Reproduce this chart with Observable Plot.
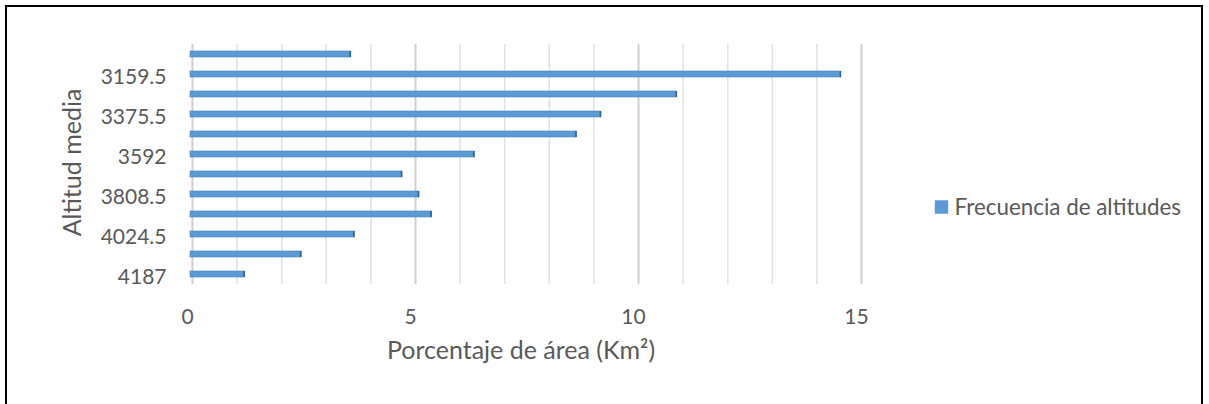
<!DOCTYPE html>
<html>
<head>
<meta charset="utf-8">
<script src="https://cdn.jsdelivr.net/npm/d3@7"></script>
<script src="https://cdn.jsdelivr.net/npm/@observablehq/plot@0.6"></script>
<style>
  html, body { margin: 0; padding: 0; background: #fff; overflow: hidden; }
  #wrap { position: relative; width: 1209px; height: 404px; }
  #frame { position: absolute; left: 5px; top: 5px; width: 1198px; height: 420px;
           border: 2.5px solid #000; box-sizing: border-box; pointer-events: none; }
</style>
</head>
<body>
<div id="wrap"><div id="frame"></div></div>
<script>
// Altitude classes (top to bottom) and share of area for each
const altitudes = ["3051.5", "3159.5", "3267.5", "3375.5", "3483.5", "3592",
                   "3700", "3808.5", "3916.5", "4024.5", "4106", "4187"];
const porcentajes = [3.60, 14.59, 10.91, 9.21, 8.66, 6.37,
                     4.75, 5.13, 5.41, 3.68, 2.49, 1.22];
// Only every other class gets a label on the axis
const labeledAltitudes = ["3159.5", "3375.5", "3592", "3808.5", "4024.5", "4187"];
const xTicks = [0, 5, 10, 15];
const xMinorTicks = [1, 2, 3, 4, 6, 7, 8, 9, 11, 12, 13, 14];
const serie = "Frecuencia de altitudes";
const xTitle = "Porcentaje de área (Km²)";
const yTitle = "Altitud media";

const rows = altitudes.map((a, i) => ({altitud: a, porcentaje: porcentajes[i]}));

const textColor = "#595959";
const barColor = "#5b9bd5";

const chart = Plot.plot({
  width: 1209,
  height: 404,
  marginLeft: 190,
  marginRight: 350,
  marginTop: 44,
  marginBottom: 120,
  style: {fontFamily: "Lato, 'Open Sans', sans-serif", fontSize: "21px", color: textColor, background: "transparent"},
  x: {domain: [0, 15]},
  y: {domain: altitudes, paddingInner: 0.72, paddingOuter: 0.36},
  marks: [
    Plot.gridX(xMinorTicks, {stroke: "#e2e2e2", strokeOpacity: 1, strokeWidth: 1.6, dx: 2}),
    Plot.gridX(xTicks, {stroke: "#cfcfcf", strokeOpacity: 1, strokeWidth: 2, dx: 2}),
    Plot.axisX({ticks: xTicks, tickSize: 0, tickPadding: 25, dx: -3, fill: textColor, label: null}),
    Plot.axisY({ticks: labeledAltitudes, tickSize: 0, tickPadding: 24, dy: 3, fill: textColor, label: null}),
    // axis titles
    Plot.text([xTitle], {text: d => d, frameAnchor: "bottom", dx: -4, dy: 74, fontSize: 25, fill: textColor}),
    Plot.text([yTitle], {text: d => d, frameAnchor: "left", textAnchor: "middle", lineAnchor: "middle",
                         rotate: -90, dx: -118, dy: -2, fontSize: 25, fill: textColor}),
    Plot.barX(rows, {x: "porcentaje", y: "altitud", fill: barColor, stroke: "#4a82b8", strokeWidth: 0.6}),
    Plot.tickX(rows, {x: "porcentaje", y: "altitud", stroke: "#2f5f8e", strokeWidth: 1.6, dx: -0.8}),
    // legend, placed in the right margin
    Plot.dot([serie], {frameAnchor: "right", dx: 82, dy: 42.5, symbol: "square", r: 7.6, fill: barColor}),
    Plot.text([serie], {text: d => d, frameAnchor: "right", textAnchor: "start", dx: 95, dy: 43, fontSize: 22.4, fill: textColor})
  ]
});

document.getElementById("wrap").prepend(chart);
</script>
</body>
</html>
